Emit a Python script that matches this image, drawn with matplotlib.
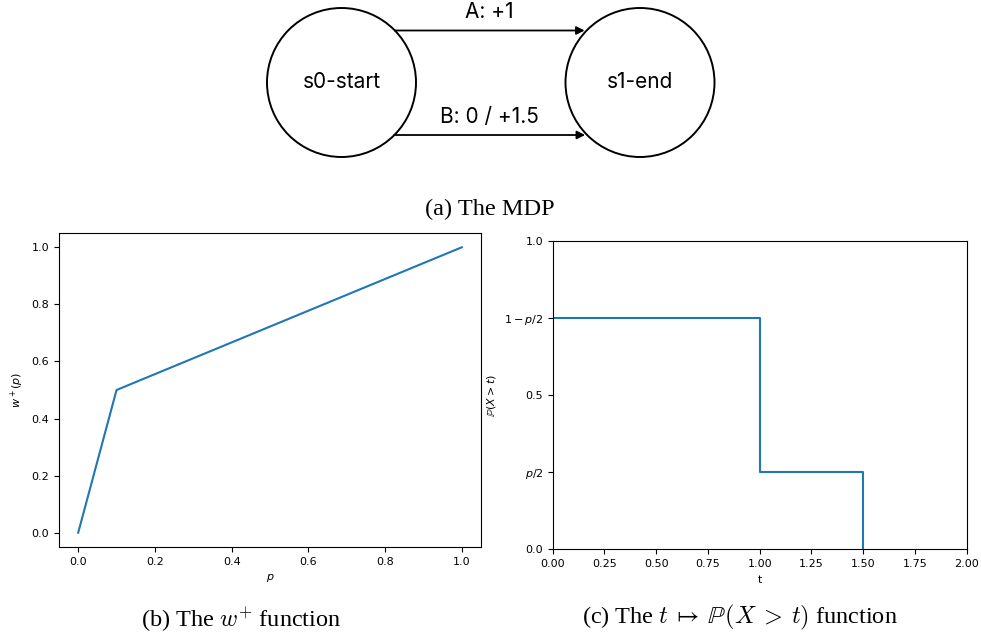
import matplotlib.pyplot as plt
from matplotlib.patches import Circle, FancyArrowPatch
import numpy as np

# MDP diagram
node_names = ["s0-start", "s1-end"]
node_x = [341.5, 640]          # pixel positions of the two states
node_y = 82.5
node_r = 74.5
edge_labels = ["A: +1", "B: 0 / +1.5"]
edge_y = [30.5, 135]

# (b) the w+ weighting function
p_vals = [0.0, 0.1, 1.0]
w_vals = [0.0, 0.5, 1.0]

# (c) the survival function t -> P(X > t)
t_vals = [0.0, 1.0, 1.0, 1.5, 1.5]
surv_vals = [0.75, 0.75, 0.25, 0.25, 0.0]
surv_ticks = [0.0, 0.25, 0.5, 0.75, 1.0]
surv_ticklabels = ["0.0", "$p/2$", "0.5", "$1-p/2$", "1.0"]

W, H = 981, 636
fig = plt.figure(figsize=(W / 100, H / 100), dpi=100)

# top diagram drawn in pixel coordinates
ax0 = fig.add_axes([0, 0, 1, 1])
ax0.set_xlim(0, W)
ax0.set_ylim(H, 0)
ax0.axis("off")
for name, x in zip(node_names, node_x):
    ax0.add_patch(Circle((x, node_y), node_r, fill=False, lw=1.4, ec="black"))
    ax0.text(x, node_y, name, ha="center", va="center", fontsize=15, family="Inter")
for lab, y in zip(edge_labels, edge_y):
    x0 = node_x[0] + np.sqrt(node_r**2 - (y - node_y)**2)
    x1 = node_x[1] - np.sqrt(node_r**2 - (y - node_y)**2) - 2
    ax0.add_patch(FancyArrowPatch((x0, y), (x1, y), arrowstyle="-|>", mutation_scale=12,
                                  lw=1.3, color="black", shrinkA=0, shrinkB=0))
    ax0.text((node_x[0] + node_x[1]) / 2 - 1, y - 18, lab, ha="center", va="center",
             fontsize=15, family="Inter")

cap_kw = dict(ha="center", va="center", fontsize=17.5, family="Liberation Serif",
              math_fontfamily="cm")
ax0.text(490, 209, "(a) The MDP", **cap_kw)
ax0.text(241, 620, "(b) The $w^{+}$ function", **cap_kw)
ax0.text(740, 617, r"(c) The $t\:\mapsto\:\mathbb{P}(X\:>\:t)$ function", **cap_kw)

# (b)
ax1 = fig.add_axes([59 / W, 1 - 547 / H, 422 / W, 314 / H])
ax1.plot(p_vals, w_vals, color="C0")
ax1.set_xlabel("$p$", fontsize=8)
ax1.set_ylabel("$w^+(p)$", fontsize=8)
ax1.tick_params(labelsize=8)

# (c)
ax2 = fig.add_axes([552.7 / W, 1 - 549.3 / H, 414 / W, 308.6 / H])
ax2.plot(t_vals, surv_vals, color="C0")
ax2.set_xlim(0, 2)
ax2.set_ylim(0, 1)
ax2.set_yticks(surv_ticks)
ax2.set_yticklabels(surv_ticklabels)
ax2.set_xlabel("t", fontsize=8)
ax2.set_ylabel(r"$\mathbb{P}(X > t)$", fontsize=8)
ax2.tick_params(labelsize=8)

fig.savefig("out.png", dpi=100)
